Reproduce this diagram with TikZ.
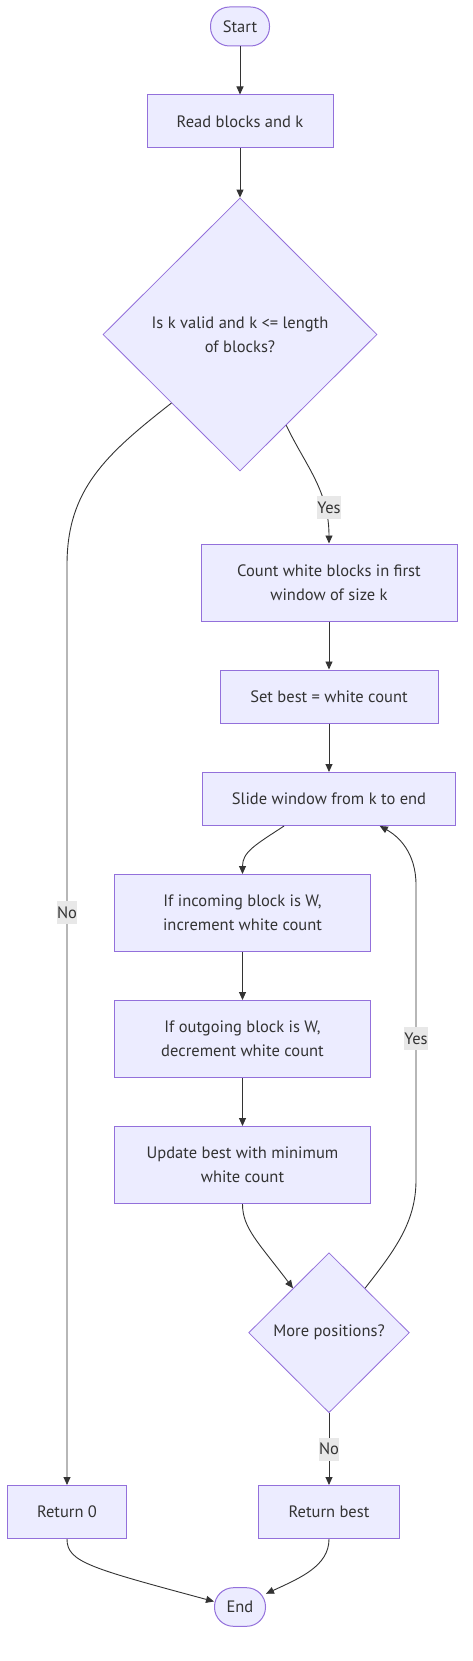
\documentclass[tikz,border=0pt]{standalone}
\usepackage{fontspec}
\setmainfont{PT Sans}
\usetikzlibrary{shapes.geometric,arrows.meta}
\definecolor{nfill}{HTML}{ECECFF}
\definecolor{nline}{HTML}{9370DB}
\definecolor{eline}{HTML}{333333}
\definecolor{lblbg}{HTML}{E8E8E8}
\definecolor{txt}{HTML}{333333}
\begin{document}
\begin{tikzpicture}[x=1pt,y=-1pt,
  every node/.style={font=\fontsize{16.5}{24}\selectfont, text=txt},
  box/.style={draw=nline, fill=nfill, line width=1pt, rectangle, inner sep=0pt, align=center},
  term/.style={box, rounded corners=19pt},
  dec/.style={draw=nline, fill=nfill, line width=0.8pt, diamond, inner sep=0pt, align=center},
  conn/.style={draw=eline, line width=0.9pt, -{Triangle[length=8pt,width=7pt]}},
  elabel/.style={fill=lblbg, inner xsep=0.5pt, inner ysep=0pt, minimum height=23pt, font=\fontsize{16.5}{18}\selectfont}
]
\useasboundingbox (0,0) rectangle (473,1661);

\node[term, minimum width=59pt, minimum height=39pt] (start) at (240,26.5) {Start};
\node[box, minimum width=186pt, minimum height=53pt] (read) at (240,121.5) {Read blocks and k};
\node[dec, minimum width=274pt, minimum height=273pt] (d1) at (240,334.5) {Is k valid and k <= length\\of blocks?};
\node[box, minimum width=256pt, minimum height=77pt] (count) at (329,582.5) {Count white blocks in first\\window of size k};
\node[box, minimum width=218pt, minimum height=53pt] (setb) at (329,696.5) {Set best = white count};
\node[box, minimum width=253pt, minimum height=53pt] (slide) at (329,799) {Slide window from k to end};
\node[box, minimum width=256.5pt, minimum height=77pt] (inc) at (242.5,913) {If incoming block is W,\\increment white count};
\node[box, minimum width=256.5pt, minimum height=77pt] (outg) at (242.5,1039) {If outgoing block is W,\\decrement white count};
\node[box, minimum width=256.5pt, minimum height=77pt] (upd) at (242.5,1165) {Update best with minimum\\white count};
\node[dec, minimum width=160.7pt, minimum height=160pt] (more) at (329,1332.7) {More positions?};
\node[box, minimum width=119.4pt, minimum height=53pt] (ret0) at (67,1512) {Return 0};
\node[box, minimum width=140.6pt, minimum height=53pt] (retb) at (329,1512) {Return best};
\node[term, minimum width=51pt, minimum height=38.6pt] (end) at (240,1607) {End};

\draw[conn] (start) -- (read);
\draw[conn] (read) -- (d1);
\draw[conn] (d1.-63) .. controls (305,465) and (329,490) .. (count.north);
\draw[conn] (d1.-135) .. controls (105,455) and (67,490) .. (67,565) -- (ret0.north);
\draw[conn] (count) -- (setb);
\draw[conn] (setb) -- (slide);
\draw[conn] (slide.-149.6) .. controls (255,845) and (242.5,852) .. (inc.north);
\draw[conn] (inc) -- (outg);
\draw[conn] (outg) -- (upd);
\draw[conn] (upd.south) .. controls (242.5,1228) and (258,1242) .. (more.129);
\draw[conn] (more.51) .. controls (395,1250) and (416,1222) .. (416,1180) -- (416,885) .. controls (416,852) and (398,836) .. (slide.-28.7);
\draw[conn] (more) -- (retb);
\draw[conn] (ret0.south) .. controls (67,1562) and (90,1568) .. (end.168);
\draw[conn] (retb.south) .. controls (329,1566) and (300,1578) .. (end.27);

\node[elabel] (lyes1) at (329,507.7) {Yes};
\node[elabel] (lno1) at (67,912.7) {No};
\node[elabel] (lyes2) at (416,1038.7) {Yes};
\node[elabel] (lno2) at (329,1449) {No};
\end{tikzpicture}
\end{document}
